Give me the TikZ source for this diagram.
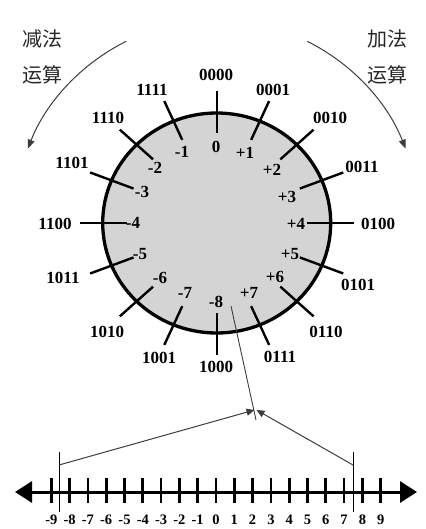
\documentclass[tikz,border=0pt]{standalone}
\usepackage{fontspec}
\setmainfont{Liberation Serif}
\newfontfamily\cjkfont{Noto Sans CJK SC}
\usetikzlibrary{arrows.meta,calc}
\definecolor{ringgray}{RGB}{212,212,212}
\definecolor{inkgray}{RGB}{60,60,60}
\begin{document}
\begin{tikzpicture}[x=1pt,y=-1pt,
  lbl/.style={font=\fontsize{17}{17}\selectfont\bfseries, inner sep=0pt},
  num/.style={font=\fontsize{14.5}{14.5}\selectfont\bfseries, inner sep=0pt},
  cjk/.style={font=\fontsize{20}{20}\selectfont\cjkfont, text=black!85, inner sep=0pt},
  dialtick/.style={line width=2.4pt},
  linetick/.style={line width=2.7pt},
  thinline/.style={line width=0.9pt, draw=inkgray},
  pointer/.style={line width=1pt, draw=inkgray, -{Triangle[length=8pt,width=7pt]}},
  turn/.style={line width=1pt, draw=inkgray, -{Triangle[length=9pt,width=7pt]}}]
\useasboundingbox (0,0) rectangle (425,529);

% dial
\coordinate (c) at (216.7,223);
\draw[fill=ringgray, line width=3.3pt] (c) ellipse [x radius=114pt, y radius=110pt];
\foreach \k in {0,...,15}{
  \pgfmathsetmacro\a{90-22.5*\k}
  \pgfmathsetmacro\ix{90*cos(\a)}
  \pgfmathsetmacro\iy{-90*sin(\a)}
  \pgfmathsetmacro\ox{137*cos(\a)}
  \pgfmathsetmacro\oy{-132*sin(\a)}
  \coordinate (ti\k) at ($(c)+(\ix,\iy)$);
  \coordinate (to\k) at ($(c)+(\ox,\oy)$);
  \draw[dialtick] (ti\k) -- (to\k);
}

% inner values
\foreach \t/\x/\y [count=\i] in {0/216/147, +1/245/153, +2/272/170, +3/287/197,
  +4/296/224, +5/290/254, +6/275/277, +7/249/293, -8/216/302, -7/185/293,
  -6/160/278, -5/140/254, -4/133/223, -3/142/192, -2/155/168, -1/182/152}
  \node[lbl] (v\i) at (\x,\y) {\t};

% outer codes
\foreach \t/\x/\y [count=\i] in {0000/216/75, 0001/273/90, 0010/330/118, 0011/362/167,
  0100/378/224, 0101/358/285, 0110/326/332, 0111/280/357, 1000/216/367, 1001/159/358,
  1010/107/332, 1011/63/278, 1100/55/224, 1101/72/163, 1110/108/118, 1111/152/90}
  \node[lbl] (b\i) at (\x,\y) {\t};

% direction arrows
\node[cjk] (sub1) at (42,39) {减法};
\node[cjk] (sub2) at (42,75) {运算};
\node[cjk] (add1) at (387,39) {加法};
\node[cjk] (add2) at (387,75) {运算};
\coordinate (ls) at ($(c)+(116.5:203pt)$);
\coordinate (rs) at ($(c)+(63.5:203pt)$);
\draw[turn] (ls) arc[start angle=116.5, end angle=158.5, radius=203pt];
\draw[turn] (rs) arc[start angle=63.5, end angle=21.5, radius=203pt];

% number line
\coordinate (nl) at (15,492);
\coordinate (nr) at (417,492);
\draw[line width=3pt, {Triangle[length=17pt,width=21pt]}-{Triangle[length=17pt,width=21pt]}] (nl) -- (nr);
\foreach \i in {-9,...,9}{
  \coordinate (nta\i) at ({216+18.3*\i},478);
  \coordinate (ntb\i) at ({216+18.3*\i},503);
  \draw[linetick] (nta\i) -- (ntb\i);
  \node[num] (nn\i) at ({216+18.3*\i},520) {\i};
}

% range brackets and pointers
\coordinate (la) at (59,452);
\coordinate (lb) at (59,512);
\coordinate (lk) at (59,465);
\coordinate (ra) at (353,452);
\coordinate (rb) at (353,512);
\coordinate (rk) at (353,465);
\coordinate (tipl) at (254.5,410);
\coordinate (tipr) at (256.5,410);
\draw[thinline, draw=black] (la) -- (lb);
\draw[thinline, draw=black] (ra) -- (rb);
\draw[pointer] (lk) -- (tipl);
\draw[pointer] (rk) -- (tipr);
\coordinate (pa) at (231,306);
\coordinate (pb) at (256,420);
\draw[thinline] (pa) -- (pb);
\end{tikzpicture}
\end{document}
